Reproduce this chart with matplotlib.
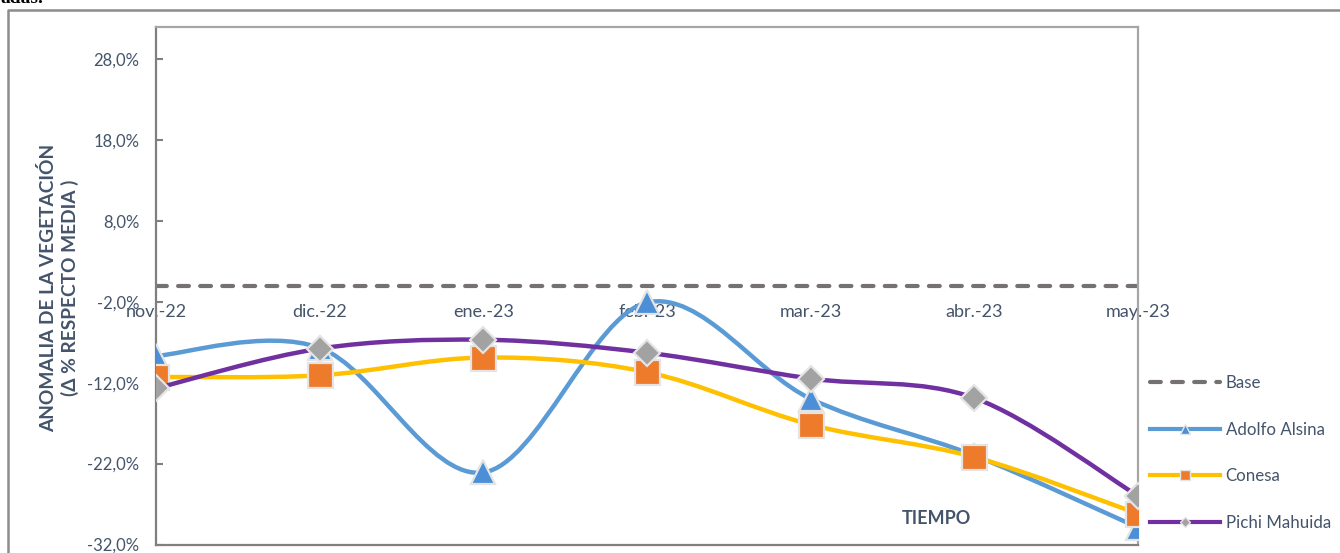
"""Anomalía de la vegetación por partido, nov-22 a may-23."""

import matplotlib

matplotlib.use("Agg")

import matplotlib.pyplot as plt
import numpy as np
from matplotlib.lines import Line2D
from matplotlib.patches import PathPatch
from matplotlib.path import Path
from matplotlib.ticker import FuncFormatter, MultipleLocator

MESES = ["nov.-22", "dic.-22", "ene.-23", "feb.-23", "mar.-23", "abr.-23", "may.-23"]
BASE = [0.0, 0.0, 0.0, 0.0, 0.0, 0.0, 0.0]
ADOLFO_ALSINA = [-8.7, -7.7, -23.1, -2.1, -14.0, -21.0, -29.9]
CONESA = [-11.3, -11.1, -8.9, -10.7, -17.2, -21.2, -28.2]
PICHI_MAHUIDA = [-12.7, -7.8, -6.7, -8.3, -11.5, -13.9, -26.0]

TEXTO = "#44546A"
FONT = ["Lato", "DejaVu Sans"]


def curva_suave(x, y):
    # Bezier tipo Excel (Catmull-Rom) que pasa por cada punto
    pts = np.column_stack([x, y])
    ext = np.vstack([pts[0], pts, pts[-1]])
    verts = [pts[0]]
    codes = [Path.MOVETO]
    for i in range(1, len(ext) - 2):
        p0, p1, p2, p3 = ext[i - 1], ext[i], ext[i + 1], ext[i + 2]
        verts += [p1 + (p2 - p0) / 6, p2 - (p3 - p1) / 6, p2]
        codes += [Path.CURVE4] * 3
    return Path(verts, codes)


def main() -> None:
    plt.rcParams["font.family"] = FONT
    fig = plt.figure(figsize=(13.4, 5.53), dpi=100)
    ax = fig.add_axes([156 / 1340, 1 - 544.5 / 553, (1138 - 156) / 1340, (544.5 - 26.5) / 553])

    x = np.arange(len(MESES))
    ax.plot(x, BASE, color="#767171", lw=3, dashes=(2.6, 2.7),
            dash_capstyle="round", zorder=2)

    series = [
        (ADOLFO_ALSINA, "#5B9BD5", "^", "#4C8FD6", 17),
        (CONESA, "#FFC000", "s", "#EE7A2B", 18),
        (PICHI_MAHUIDA, "#7030A0", "D", "#A2A2A2", 13),
    ]
    z = 3
    for valores, color, marker, relleno, ms in series:
        ax.add_patch(PathPatch(curva_suave(x, valores), fill=False, edgecolor=color,
                               lw=3.2, capstyle="round", zorder=z))
        ax.plot(x, valores, ls="none", marker=marker, ms=ms, mfc=relleno,
                mec="#E4E4E4", mew=1.6, zorder=z + 0.5)
        z += 1

    ax.set_xlim(0, 6)
    ax.set_ylim(-32, 32)
    ax.set_xticks([])
    ax.yaxis.set_major_locator(MultipleLocator(10, offset=-2))
    ax.yaxis.set_major_formatter(FuncFormatter(lambda v, _: f"{v:.1f}%".replace(".", ",")))
    ax.tick_params(axis="y", direction="in", length=5, width=1.5, color="#7F7F7F",
                   labelcolor=TEXTO, labelsize=12, pad=12)
    for lado in ("left", "bottom"):
        ax.spines[lado].set_color("#7F7F7F")
        ax.spines[lado].set_linewidth(1.6)
    for lado in ("top", "right"):
        ax.spines[lado].set_color("#A6A6A6")
        ax.spines[lado].set_linewidth(1.6)

    # etiquetas de categoría sobre -2 %
    sec = ax.secondary_xaxis((-2 + 32) / 64)
    sec.set_xticks(x, MESES)
    sec.tick_params(length=0, pad=1.5, labelsize=13, labelcolor=TEXTO)
    sec.spines["bottom"].set_visible(False)

    fig.text(59 / 1340, 1 - 288 / 553,
             "ANOMALIA DE LA VEGETACIÓN\n(Δ % RESPECTO MEDIA )",
             rotation=90, ha="center", va="center", ma="center",
             fontsize=13.8, fontweight="bold", color=TEXTO, linespacing=1.25)
    fig.text(936 / 1340, 1 - 519 / 553, "TIEMPO", ha="center", va="center",
             fontsize=13, fontweight="bold", color=TEXTO)

    handles = [
        Line2D([], [], color="#767171", lw=3, dashes=(2.6, 2.7), dash_capstyle="round"),
        Line2D([], [], color="#5B9BD5", lw=3, marker="^", ms=7, mfc="#4C8FD6",
               mec="#E4E4E4", mew=1),
        Line2D([], [], color="#FFC000", lw=3, marker="s", ms=7, mfc="#EE7A2B",
               mec="#E4E4E4", mew=1),
        Line2D([], [], color="#7030A0", lw=3, marker="D", ms=5, mfc="#A2A2A2",
               mec="#E4E4E4", mew=1),
    ]
    fig.legend(handles, ["Base", "Adolfo Alsina", "Conesa", "Pichi Mahuida"],
               loc="center left", bbox_to_anchor=(1135 / 1340, 1 - 453 / 553),
               frameon=False, fontsize=12.2, handlelength=4.1, handletextpad=0.35,
               labelspacing=1.8, labelcolor=TEXTO)

    # marco exterior recortado
    fig.add_artist(Line2D([8 / 1340, 8 / 1340, 1.0], [0.0, 1 - 10 / 553, 1 - 10 / 553],
                          color="#8C8C8C", lw=1.8))
    fig.text(0.0, 1 - 3 / 553, "adas.", ha="left", va="baseline", fontsize=14,
             fontweight="bold", family="Liberation Serif", color="black")

    fig.savefig("out.png", dpi=100)
    plt.close(fig)


if __name__ == "__main__":
    main()
